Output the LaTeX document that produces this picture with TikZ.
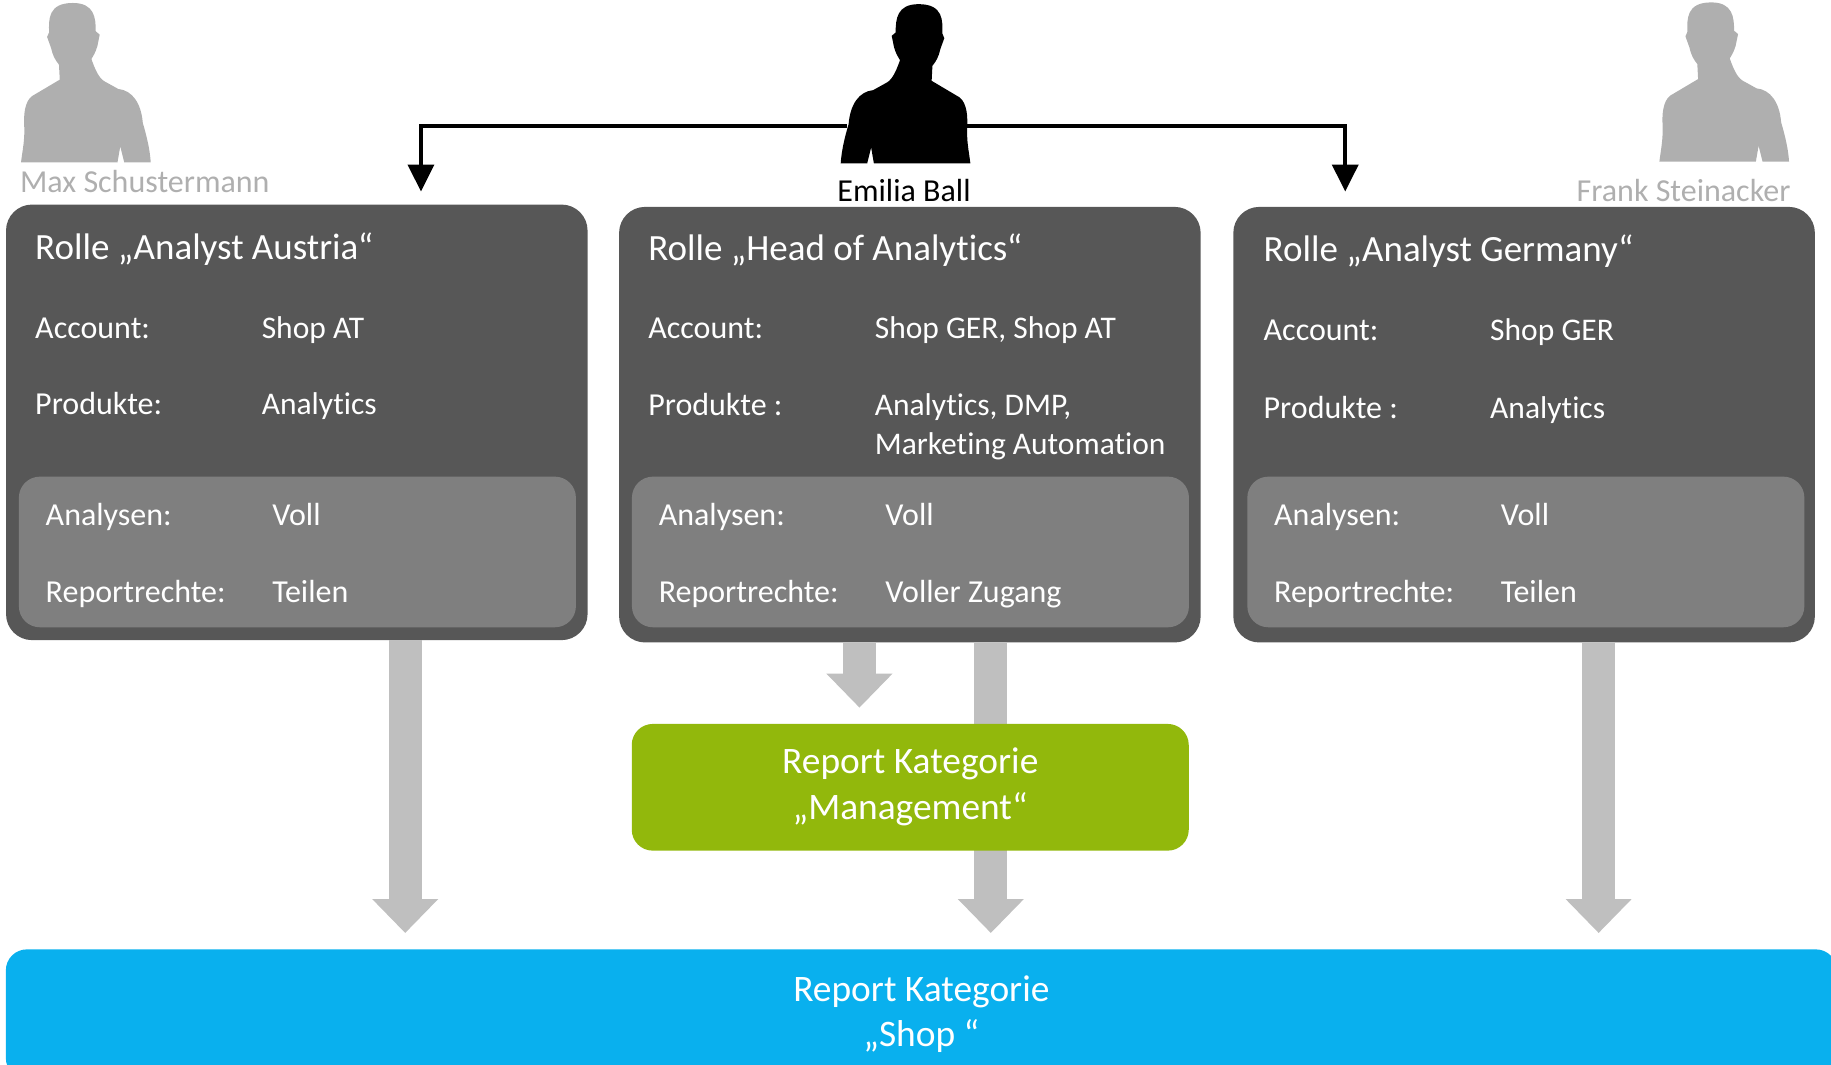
\documentclass[tikz,border=0pt]{standalone}
\usepackage{fontspec}
\setmainfont[Ligatures=NoCommon]{Carlito}
\usetikzlibrary{arrows.meta}
\definecolor{darkbox}{HTML}{575757}
\definecolor{innerbox}{HTML}{7F7F7F}
\definecolor{greenbox}{HTML}{92B80C}
\definecolor{bluebox}{HTML}{09B0EE}
\definecolor{arrowgrey}{HTML}{BFBFBF}
\definecolor{persongrey}{HTML}{AFAFAF}
\def\ux{1.1677pt}
\tikzset{
  x=1.1677pt,y=-1.1677pt,
  panel/.style={fill=darkbox,rounded corners=26pt,anchor=north west,inner sep=0,minimum width=498*\ux,minimum height=373*\ux},
  inner panel/.style={fill=innerbox,rounded corners=21pt,anchor=north west,inner sep=0,minimum width=477*\ux,minimum height=129*\ux},
  category/.style={rounded corners=21pt,inner sep=0,text=white,align=center,font=\fontsize{37.4}{45.5}\selectfont},
  title/.style={anchor=base west,inner sep=0,text=white,font=\fontsize{37}{42}\selectfont},
  lab/.style={anchor=base west,inner sep=0,text=white,font=\fontsize{32}{36}\selectfont},
  val/.style={anchor=base west,inner sep=0,text=white,font=\fontsize{31.5}{36}\selectfont},
  person name/.style={inner sep=0,anchor=base west,font=\fontsize{32}{36}\selectfont},
  big arrow/.style={draw=arrowgrey,line width=33pt,-{Triangle[length=34pt,width=64pt,fill=arrowgrey]}},
  thin arrow/.style={draw=black,line width=3.8pt,-{Triangle[length=27pt,width=26pt,fill=black]}},
  person/.pic={
    \fill[pic actions,xscale=1/2.953,yscale=1/3.503,shift={(-54,-488)}]
      (54,488) .. controls (58,450) and (64,420) .. (62,375)
      .. controls (60,330) and (68,295) .. (88,285)
      -- (152,240) -- (150,195) .. controls (140,180) and (135,170) .. (130,145)
      -- (120,112) -- (125,98) .. controls (124,60) and (122,10) .. (185,10)
      .. controls (240,10) and (243,55) .. (243,95)
      -- (253,105) -- (247,140) .. controls (242,160) and (236,170) .. (232,178)
      .. controls (240,205) and (250,235) .. (265,245)
      -- (300,268) .. controls (335,272) and (358,310) .. (362,370)
      .. controls (372,410) and (380,450) .. (382,488)
      -- (315,488) -- (305,440) -- (298,488) -- cycle;
  }
}
\begin{document}
\begin{tikzpicture}
\useasboundingbox (0,0) rectangle (1568,911.2);
\clip (0,0) rectangle (1568,911.2);

% free ends of the connectors
\coordinate (tipL) at (360.5,164);
\coordinate (tipR) at (1152,164);
\coordinate (tipA) at (347,799);
\coordinate (tipB) at (736,606);
\coordinate (tipC) at (848.5,799);
\coordinate (tipD) at (1369,799);

% panels
\node[panel] (boxA) at (5,175) {};
\node[panel] (boxB) at (530,177) {};
\node[panel] (boxC) at (1056,177) {};
\node[inner panel] (inA) at (16,408) {};
\node[inner panel] (inB) at (541,408) {};
\node[inner panel] (inC) at (1068,408) {};

% grey arrows
\draw[big arrow] (boxA.south -| tipA) -- (tipA);
\draw[big arrow] (boxB.south -| tipB) -- (tipB);
\draw[big arrow] (boxB.south -| tipC) -- (tipC);
\draw[big arrow] (boxC.south -| tipD) -- (tipD);

% categories
\node[category,fill=greenbox,minimum width=477*\ux,minimum height=108.5*\ux] (mgmt) at (779.5,674.2) {\raisebox{-1.2pt}{\begin{tabular}{@{}c@{}}Report Kategorie\\[0pt]„Management“\end{tabular}}};
\node[category,fill=bluebox,minimum width=1568*\ux,minimum height=111*\ux] (shop) at (789,868.5) {Report Kategorie\\„Shop “};

% persons
\pic[fill=persongrey] at (18,139) {person};
\pic[fill=persongrey,xscale=1] at (1421,138.5) {person};
\pic[fill=black,xscale=-1] at (831,140) {person};
\coordinate (emiL) at (725,108);
\coordinate (emiR) at (825,108);
\draw[thin arrow] (emiL) -| (tipL);
\draw[thin arrow] (emiR) -| (tipR);

\node[person name,text=persongrey] (nMax) at (17,165) {Max Schustermann};
\node[person name,text=black] (nEmi) at (717,172.5) {Emilia Ball};
\node[person name,text=persongrey] (nFrank) at (1350,172.5) {Frank Steinacker};

% box A
\node[title] (tA) at (30,222) {Rolle „Analyst Austria“};
\node[lab] (a1) at (30,290) {Account:};
\node[val] (a2) at (224,290) {Shop AT};
\node[lab] (a3) at (30,355) {Produkte:};
\node[val] (a4) at (224,355) {Analytics};
\node[lab] (a5) at (39,450) {Analysen:};
\node[lab] (a6) at (233,450) {Voll};
\node[lab] (a7) at (39,516) {Reportrechte:};
\node[lab] (a8) at (233,516) {Teilen};

% box B
\node[title] (tB) at (555,223) {Rolle „Head of Analytics“};
\node[lab] (b1) at (555,290) {Account:};
\node[val] (b2) at (749,290) {Shop GER, Shop AT};
\node[lab] (b3) at (555,356) {Produkte :};
\node[val] (b4) at (749,356) {Analytics, DMP,};
\node[val] (b4b) at (749,389) {Marketing Automation};
\node[lab] (b5) at (564,450) {Analysen:};
\node[lab] (b6) at (758,450) {Voll};
\node[lab] (b7) at (564,516) {Reportrechte:};
\node[lab] (b8) at (758,516) {Voller Zugang};

% box C
\node[title] (tC) at (1082,224) {Rolle „Analyst Germany“};
\node[lab] (c1) at (1082,292) {Account:};
\node[val] (c2) at (1276,292) {Shop GER};
\node[lab] (c3) at (1082,358) {Produkte :};
\node[val] (c4) at (1276,358) {Analytics};
\node[lab] (c5) at (1091,450) {Analysen:};
\node[lab] (c6) at (1285,450) {Voll};
\node[lab] (c7) at (1091,516) {Reportrechte:};
\node[lab] (c8) at (1285,516) {Teilen};
\end{tikzpicture}
\end{document}
